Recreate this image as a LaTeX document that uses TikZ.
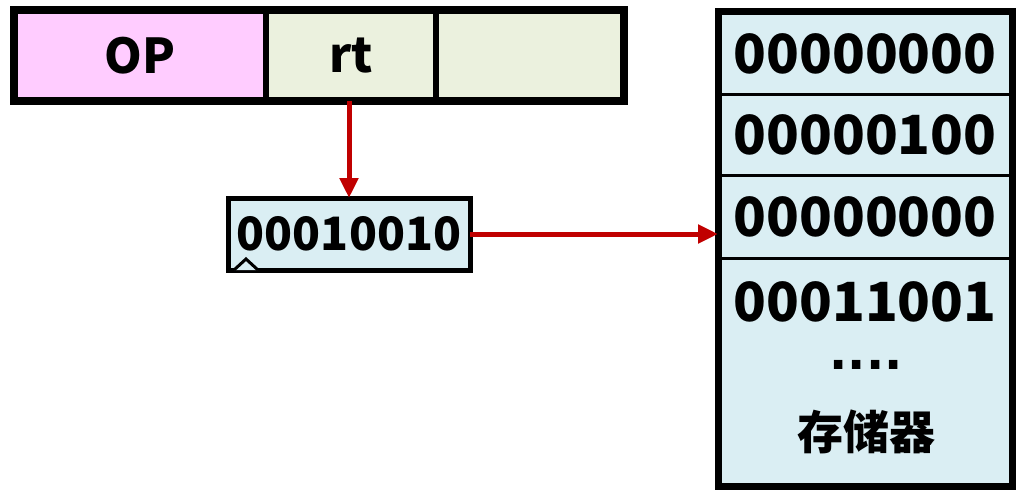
\documentclass[tikz,border=0pt]{standalone}
\usepackage{fontspec}
\setmainfont{Noto Sans CJK SC}
\newfontfamily\dotfont{DejaVu Sans}
\usetikzlibrary{arrows.meta}
\definecolor{opfill}{HTML}{FFCCFF}
\definecolor{fieldfill}{HTML}{EBF1DE}
\definecolor{memfill}{HTML}{DAEEF3}
\definecolor{linkred}{HTML}{C00000}
\tikzset{
  field/.style={draw, line width=6pt, minimum height=91pt, inner sep=0pt, outer sep=0pt,
    font=\bfseries\fontsize{48}{54}\selectfont},
  cell/.style={draw, line width=3pt, fill=memfill, minimum width=294pt, inner sep=0pt, outer sep=0pt,
    font=\bfseries\fontsize{54}{60}\selectfont},
  bits/.style={font=\bfseries\fontsize{54}{60}\selectfont},
  link/.style={draw=linkred, line width=5pt, -{Triangle[length=20pt,width=18pt]}},
}

\begin{document}
\begin{tikzpicture}[x=1pt,y=-1pt]
  \useasboundingbox (0,0) rectangle (1018,495);
  % instruction word: OP | rt | unused
  \node[field, fill=opfill, minimum width=252pt] (op) at (140,55.5) {OP};
  \node[field, fill=fieldfill, minimum width=170pt] (rt) at (351,55.5) {rt};
  \node[field, fill=fieldfill, minimum width=188pt] (spare) at (530,55.5) {};
  \draw[line width=8pt] (op.north west) rectangle (spare.south east);

  % register addressed by rt
  \node[draw, line width=5pt, fill=memfill, minimum width=242pt, minimum height=72pt,
    inner sep=0pt, outer sep=0pt, font=\bfseries\fontsize{46}{52}\selectfont] (reg) at (349,234) {00010010};
  \draw[line width=3pt, fill=memfill] ([shift={(6,0)}]reg.south west) -- ([shift={(18,-11)}]reg.south west)
    -- ([shift={(30,0)}]reg.south west);

  % memory cells
  \node[cell, minimum height=83pt] (m1) at (865,53.5) {00000000};
  \node[cell, minimum height=80pt] (m2) at (865,135) {00000100};
  \node[cell, minimum height=83pt] (m3) at (865,216.5) {00000000};
  \node[cell, minimum height=228pt] (m4) at (865,372) {};
  \node[bits] (m4val) at (865,302) {00011001};
  \node[font=\dotfont\bfseries\fontsize{48}{52}\selectfont, inner sep=0pt] (dots) at (866,365) {....};
  \node[font=\bfseries\fontsize{46}{50}\selectfont] (memname) at (866,432) {存储器};
  \draw[line width=7pt] (m1.north west) rectangle (m4.south east);

  % rt -> register -> memory
  \draw[link] (reg.north |- rt.south) -- (reg.north);
  \draw[link] (reg.east) -- (reg.east -| m3.west);
\end{tikzpicture}
\end{document}
